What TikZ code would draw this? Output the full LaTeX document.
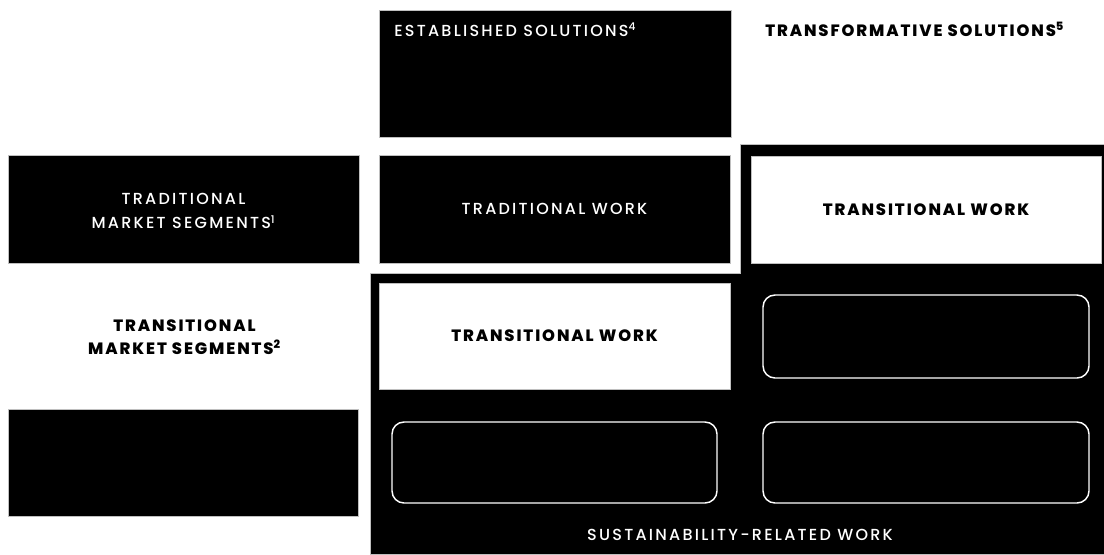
\documentclass[tikz,border=0pt]{standalone}
\usepackage{fontspec}
\setmainfont{Poppins}
\newfontfamily\popmedium{Poppins Medium}
\newfontfamily\popheavy{Poppins ExtraBold}
\usetikzlibrary{positioning}

\tikzset{
  blk/.style={fill=black, draw=black!25, line width=0.4},
  wbox/.style={fill=white, draw=black!25, line width=0.4},
  slot/.style={draw=white, line width=1.1, rounded corners=9},
  wlabel/.style={text=white, inner sep=0.75pt, align=center,
    font=\popmedium\fontsize{12}{18.5}\selectfont\addfontfeature{LetterSpace=14}},
  blabel/.style={text=black, inner sep=0.75pt, align=center,
    font=\popheavy\fontsize{12.3}{17.5}\selectfont\addfontfeature{LetterSpace=11.5}},
}

\begin{document}
\begin{tikzpicture}[x=0.75pt,y=0.75pt,yscale=-1,xscale=1]
\useasboundingbox (0,0) rectangle (1104,554);

%Shape: Polygon [sustainability field]
\draw [blk] (740,144) -- (1104,144) -- (1104,554) -- (370,554) -- (370,273) -- (740,273) -- cycle ;
%Shape: Rectangle [established solutions]
\draw [blk] (379,10) rectangle (731,137) ;
%Shape: Rectangle [traditional segments]
\draw [blk] (8,155) rectangle (359,263) ;
%Shape: Rectangle [traditional work]
\draw [blk] (379,155) rectangle (730,263) ;
%Shape: Rectangle [empty segment]
\draw [blk] (8,409) rectangle (358,516) ;
%Shape: Rectangle [transitional work, right]
\draw [wbox] (751,156) rectangle (1101,263) ;
%Shape: Rectangle [transitional work, left]
\draw [wbox] (379,283) rectangle (730,389) ;
%Shape: Rounded Rect
\draw [slot] (763,295) rectangle (1089,378) ;
%Shape: Rounded Rect
\draw [slot] (392,422) rectangle (717,503) ;
%Shape: Rounded Rect
\draw [slot] (763,422) rectangle (1089,503) ;

% Text Node
\draw (393,30) node [anchor=west][wlabel] (estab) {ESTABLISHED SOLUTIONS\textsuperscript{4}};
% Text Node
\draw (764,29) node [anchor=west][blabel] (transf) {TRANSFORMATIVE SOLUTIONS\textsuperscript{5}};
% Text Node
\draw (183.5,211) node [wlabel] (tradseg) {TRADITIONAL\\MARKET SEGMENTS\textsuperscript{1}};
% Text Node
\draw (184.5,337) node [blabel] (transseg) {TRANSITIONAL\\MARKET SEGMENTS\textsuperscript{2}};
% Text Node
\draw (554.5,209) node [wlabel] (tradwork) {TRADITIONAL WORK};
% Text Node
\draw (926,210) node [blabel] (transwork) {TRANSITIONAL WORK};
% Text Node
\draw (554.5,336) node [blabel] (transwork2) {TRANSITIONAL WORK};
% Text Node
\draw (740,535) node [wlabel] (sustwork) {SUSTAINABILITY-RELATED WORK};

\end{tikzpicture}
\end{document}
